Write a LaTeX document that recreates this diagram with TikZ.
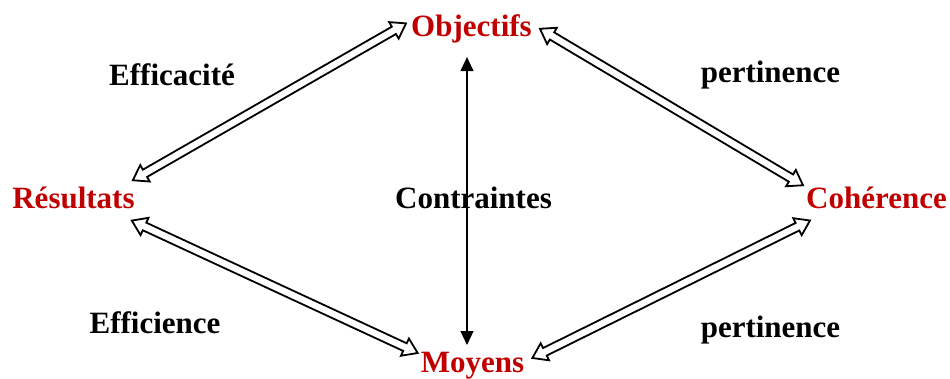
\documentclass[tikz,border=0pt]{standalone}
\usepackage{fontspec}
\setmainfont{Liberation Serif}
\usetikzlibrary{arrows.meta,calc}
\definecolor{dred}{RGB}{192,0,0}
\newcommand\blkarrow[2]{%
 \draw[blk] (#1) -- ($(#1)!14pt!(#2)!9.5pt!90:(#2)$) -- ($(#1)!14pt!(#2)!4.2pt!90:(#2)$)
 -- ($(#2)!14pt!(#1)!4.2pt!-90:(#1)$) -- ($(#2)!14pt!(#1)!9.5pt!-90:(#1)$) -- (#2)
 -- ($(#2)!14pt!(#1)!9.5pt!90:(#1)$) -- ($(#2)!14pt!(#1)!4.2pt!90:(#1)$)
 -- ($(#1)!14pt!(#2)!4.2pt!-90:(#2)$) -- ($(#1)!14pt!(#2)!9.5pt!-90:(#2)$) -- cycle;}
\begin{document}
\begin{tikzpicture}[x=1pt,y=-1pt,
  lab/.style={font=\fontsize{31}{31}\selectfont\bfseries, inner sep=0pt, anchor=base},
  key/.style={lab, text=dred},
  blk/.style={draw=black, fill=white, line width=1.8pt, line join=miter},
  thin/.style={line width=1.2pt, {Triangle[length=14pt,width=13pt]}-{Triangle[length=14pt,width=13pt]}}]
\useasboundingbox (0,0) rectangle (950,378);
\node[key] (obj) at (471.5,36) {Objectifs};
\node[key] (res) at (73.5,208) {Résultats};
\node[key] (coh) at (876.5,208) {Cohérence};
\node[key] (moy) at (472.5,372) {Moyens};
\node[lab] (con) at (473.5,208) {Contraintes};
\node[lab] (eca) at (172,85) {Efficacité};
\node[lab] (per1) at (770.5,82) {pertinence};
\node[lab] (eci) at (155,333) {Efficience};
\node[lab] (per2) at (770.5,337) {pertinence};
\coordinate (o1) at ([shift={(-5,-5)}]obj.west);
\coordinate (r1) at ([shift={(-2,-6)}]res.north east);
\coordinate (o2) at ([shift={(8,0.4)}]obj.east);
\coordinate (c1) at ([shift={(-3,-1)}]coh.north west);
\coordinate (r2) at ([shift={(-3,12)}]res.south east);
\coordinate (m1) at ([shift={(-3,1.5)}]moy.north west);
\coordinate (c2) at ([shift={(4,12)}]coh.south west);
\coordinate (m2) at ([shift={(8,6.5)}]moy.north east);
\blkarrow{o1}{r1}
\blkarrow{o2}{c1}
\blkarrow{r2}{m1}
\blkarrow{c2}{m2}
\draw[thin] ([shift={(-4.5,14.3)}]obj.south) -- ([shift={(-5.5,-6.5)}]moy.north);
\end{tikzpicture}
\end{document}
